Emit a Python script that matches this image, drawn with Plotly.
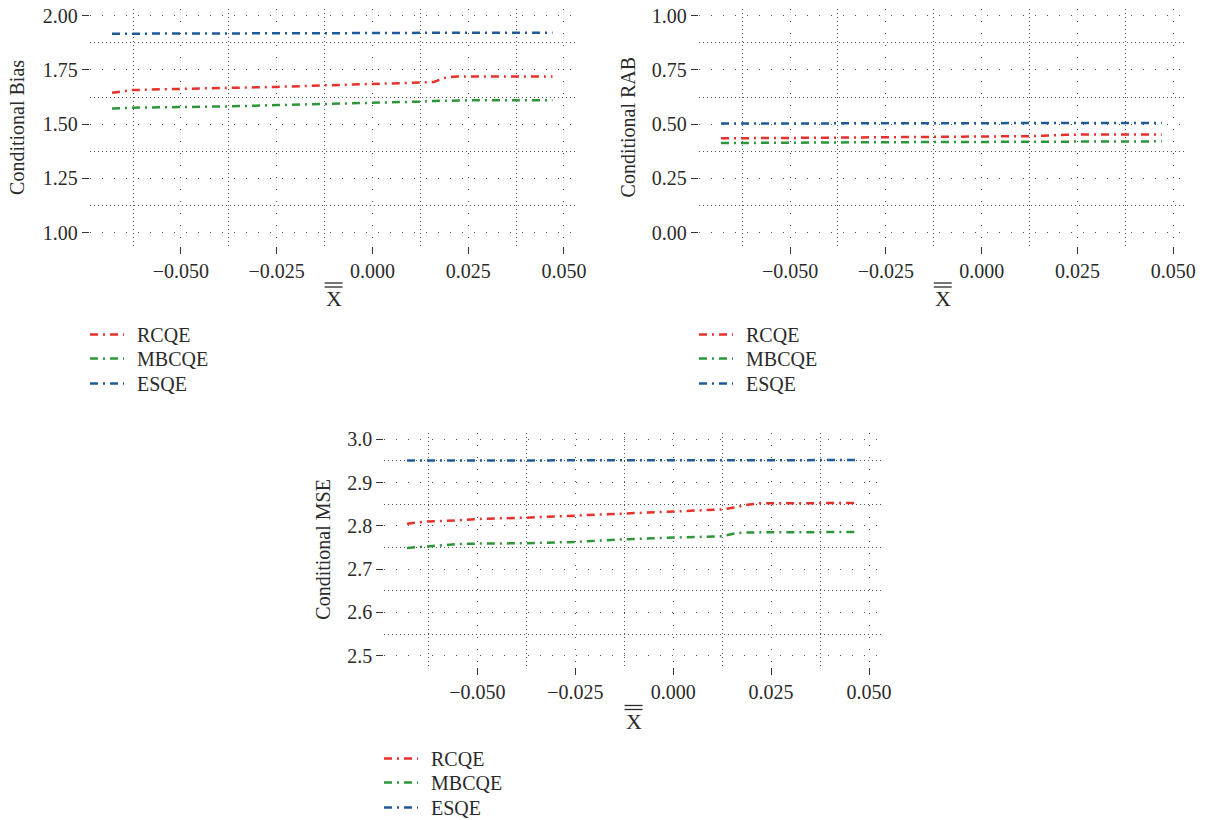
import plotly.graph_objects as go

# ---------------- data ----------------
x_vals = [-0.068, -0.063, -0.055, -0.050, -0.0375, -0.025, -0.0125, 0.0,
          0.0125, 0.016, 0.019, 0.022, 0.025, 0.0375, 0.047]

series_names = ["RCQE", "MBCQE", "ESQE"]

bias_rcqe = [1.645, 1.657, 1.661, 1.663, 1.665, 1.672, 1.679, 1.684,
             1.692, 1.695, 1.714, 1.720, 1.720, 1.720, 1.720]
bias_mbcqe = [1.572, 1.576, 1.578, 1.579, 1.582, 1.588, 1.593, 1.597,
              1.604, 1.607, 1.609, 1.610, 1.610, 1.610, 1.610]
bias_esqe = [1.917, 1.917, 1.918, 1.918, 1.918, 1.919, 1.919, 1.920,
             1.921, 1.921, 1.921, 1.922, 1.922, 1.922, 1.922]

rab_rcqe = [0.435, 0.436, 0.437, 0.437, 0.438, 0.440, 0.441, 0.443,
            0.445, 0.447, 0.450, 0.451, 0.452, 0.452, 0.452]
rab_mbcqe = [0.413, 0.414, 0.414, 0.415, 0.416, 0.417, 0.418, 0.419,
             0.420, 0.421, 0.421, 0.421, 0.421, 0.421, 0.421]
rab_esqe = [0.503, 0.503, 0.503, 0.504, 0.504, 0.504, 0.505, 0.505,
            0.505, 0.505, 0.506, 0.506, 0.506, 0.506, 0.506]

mse_rcqe = [2.805, 2.810, 2.813, 2.816, 2.819, 2.824, 2.829, 2.834,
            2.838, 2.843, 2.849, 2.852, 2.852, 2.853, 2.853]
mse_mbcqe = [2.749, 2.752, 2.758, 2.759, 2.760, 2.763, 2.769, 2.773,
             2.776, 2.783, 2.785, 2.785, 2.785, 2.786, 2.786]
mse_esqe = [2.951, 2.951, 2.951, 2.951, 2.951, 2.951, 2.952, 2.952,
            2.952, 2.952, 2.952, 2.952, 2.952, 2.952, 2.952]

x_ticks = [-0.050, -0.025, 0.000, 0.025, 0.050]
y_titles = ["Conditional Bias", "Conditional RAB", "Conditional MSE"]

# ---------------- style ----------------
FONT = "Liberation Serif"
TXT = "#2a2a2a"
colors = ["#e8312b", "#2e9639", "#1f5b99"]
DASH = "8px,5px,2px,5px"
W, H = 1205, 820

panels = [
    dict(data=[bias_rcqe, bias_mbcqe, bias_esqe], xd=[89.8, 577.4], yd=[9.2, 245.7],
         yr=[0.94, 2.03], ytick=[1.0, 1.25, 1.5, 1.75, 2.0], yfmt=".2f", ydt=0.25,
         ytitle_x=17.5, xtitle_y=298.5, leg_x=85, leg_y=[335, 359, 384]),
    dict(data=[rab_rcqe, rab_mbcqe, rab_esqe], xd=[698.8, 1186.7], yd=[9.2, 245.7],
         yr=[-0.06, 1.03], ytick=[0.0, 0.25, 0.5, 0.75, 1.0], yfmt=".2f", ydt=0.25,
         ytitle_x=628, xtitle_y=298.5, leg_x=694, leg_y=[335, 359, 384]),
    dict(data=[mse_rcqe, mse_mbcqe, mse_esqe], xd=[384.3, 882.7], yd=[432.8, 666.6],
         yr=[2.475, 3.015], ytick=[2.5, 2.6, 2.7, 2.8, 2.9, 3.0], yfmt=".1f", ydt=0.1,
         ytitle_x=323, xtitle_y=721, leg_x=379, leg_y=[759, 783, 808]),
]

fig = go.Figure()
layout = dict(
    width=W, height=H, margin=dict(l=0, r=0, t=0, b=0, autoexpand=False),
    paper_bgcolor="white", plot_bgcolor="white",
    font=dict(family=FONT, size=20, color=TXT),
    showlegend=True,
)

shapes = []
annotations = []
leg_idx = 0

for i, p in enumerate(panels):
    n = "" if i == 0 else str(i + 1)
    xa, ya = "x" + n, "y" + n
    for s in range(3):
        leg_idx += 1
        lname = "legend" if leg_idx == 1 else "legend%d" % leg_idx
        fig.add_trace(go.Scatter(
            x=x_vals, y=p["data"][s], mode="lines",
            name="\u2009\u2009" + series_names[s],
            line=dict(color=colors[s], width=2.5, dash=DASH),
            xaxis=xa, yaxis=ya, legend=lname, hoverinfo="x+y+name",
        ))
        layout[lname] = dict(x=p["leg_x"] / W, y=1 - (p["leg_y"][s] - 20) / H,
                             xanchor="left", yanchor="top",
                             bgcolor="rgba(0,0,0,0)", borderwidth=0,
                             font=dict(family=FONT, size=20, color=TXT),
                             itemwidth=34)
    grid_common = dict(showline=False, zeroline=False, ticks="outside", ticklen=7,
                       tickwidth=1, tickcolor="#333", gridcolor="#555", gridwidth=1,
                       griddash="1px,11px", tickfont=dict(family=FONT, size=20, color=TXT))
    layout["xaxis" + n] = dict(
        domain=[p["xd"][0] / W, p["xd"][1] / W], range=[-0.0738, 0.0535],
        anchor=ya, tickvals=x_ticks, tickformat=".3f",
        minor=dict(tickvals=[-0.0625, -0.0375, -0.0125, 0.0125, 0.0375], showgrid=True,
                   griddash="1px,3px", gridcolor="#555", gridwidth=1, ticks=""),
        **grid_common)
    yminor = [v + p["ydt"] / 2 for v in p["ytick"][:-1]]
    layout["yaxis" + n] = dict(
        domain=[1 - p["yd"][1] / H, 1 - p["yd"][0] / H], range=p["yr"],
        anchor=xa, tickvals=p["ytick"], tickformat=p["yfmt"],
        minor=dict(tickvals=yminor, showgrid=True, griddash="1px,3px",
                   gridcolor="#555", gridwidth=1, ticks=""),
        **grid_common)
    # y title
    ycen = (p["yd"][0] + p["yd"][1]) / 2
    annotations.append(dict(text=y_titles[i], x=p["ytitle_x"] / W, y=1 - ycen / H,
                            xref="paper", yref="paper", showarrow=False, textangle=-90,
                            font=dict(family=FONT, size=20, color=TXT),
                            xanchor="center", yanchor="middle"))
    # x title: X with double overline
    xc = (p["xd"][0] + p["xd"][1]) / 2
    yc = p["xtitle_y"]
    annotations.append(dict(text="X", x=xc / W, y=1 - yc / H, xref="paper",
                            yref="paper", showarrow=False, yanchor="middle",
                            xanchor="center",
                            font=dict(family=FONT, size=22, color=TXT)))
    for off in (11.5, 15.5):
        shapes.append(dict(type="line", xref="paper", yref="paper",
                           x0=(xc - 9) / W, x1=(xc + 9) / W,
                           y0=1 - (yc - off) / H, y1=1 - (yc - off) / H,
                           line=dict(color=TXT, width=1.3)))

layout["shapes"] = shapes
layout["annotations"] = annotations
fig.update_layout(**layout)
fig.write_html("out.html")
